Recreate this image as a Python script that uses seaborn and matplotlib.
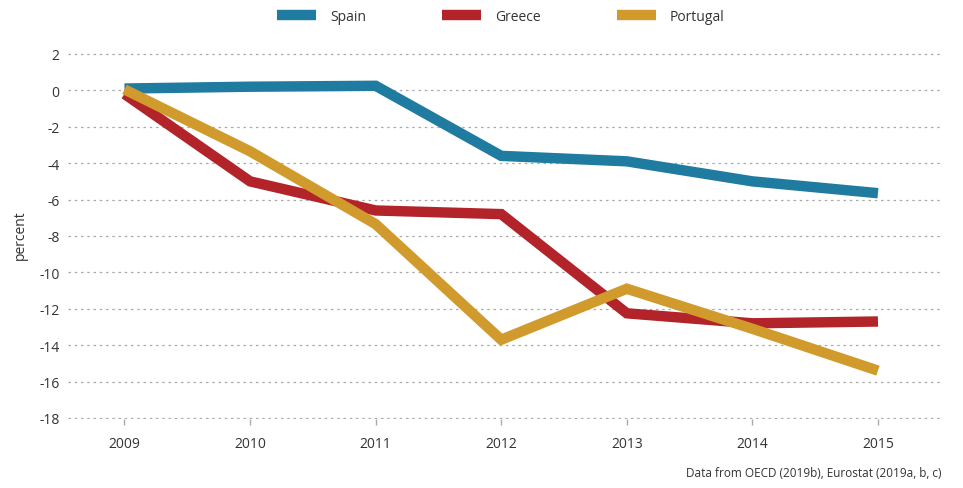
import matplotlib
matplotlib.use("Agg")
import matplotlib.pyplot as plt
import seaborn as sns
import pandas as pd

years = [2009, 2010, 2011, 2012, 2013, 2014, 2015]
spain = [0.1, 0.2, 0.25, -3.6, -3.9, -5.0, -5.65]
greece = [-0.2, -5.0, -6.6, -6.8, -12.25, -12.8, -12.7]
portugal = [0.05, -3.35, -7.35, -13.7, -10.9, -13.1, -15.4]

countries = ["Spain", "Greece", "Portugal"]
colors = ["#1f7ba0", "#b2232a", "#d09b2c"]

df = pd.DataFrame({
    "year": years * 3,
    "value": spain + greece + portugal,
    "country": [c for c in countries for _ in years],
})

sns.set_style("white")
plt.rcParams["font.family"] = ["Open Sans", "DejaVu Sans"]
plt.rcParams["axes.unicode_minus"] = False
text_color = "#333333"

fig = plt.figure(figsize=(9.63, 4.89), dpi=100)
ax = fig.add_axes([0.0706, 0.1410, 0.9076, 0.7578])

sns.lineplot(data=df, x="year", y="value", hue="country", hue_order=countries,
             palette=colors, linewidth=7.5, ax=ax, solid_capstyle="butt",
             solid_joinstyle="miter", legend=False)

ax.set_xlim(2008.55, 2015.51)
ax.set_ylim(-18.06, 2.3)
ax.set_yticks(range(-18, 3, 2))
ax.set_xticks(years)
ax.set_xticklabels([str(y) for y in years])
ax.grid(axis="y", color="#aaaaaa", linestyle=(0, (2, 3)), linewidth=0.9)
ax.set_axisbelow(True)
for s in ax.spines.values():
    s.set_visible(False)
ax.tick_params(axis="y", length=0, labelsize=10, labelcolor=text_color, pad=6)
ax.tick_params(axis="x", bottom=True, direction="out", length=4, width=1,
               color="#aaaaaa", labelsize=10, labelcolor=text_color, pad=8)
ax.set_xlabel("")
ax.set_ylabel("percent", fontsize=10, color=text_color, labelpad=8)

handles = [plt.Line2D([], [], color=c, linewidth=7.5, solid_capstyle="butt")
           for c in colors]
fig.legend(handles, countries, loc="center", bbox_to_anchor=(0.52, 0.965),
           ncol=3, frameon=False, fontsize=10, handlelength=2.8,
           handletextpad=1.0, columnspacing=5.5, labelcolor=text_color)

fig.text(0.978, 0.018, "Data from OECD (2019b), Eurostat (2019a, b, c)",
         ha="right", va="bottom", fontsize=8.5, color=text_color)

fig.savefig("out.png", dpi=100)
